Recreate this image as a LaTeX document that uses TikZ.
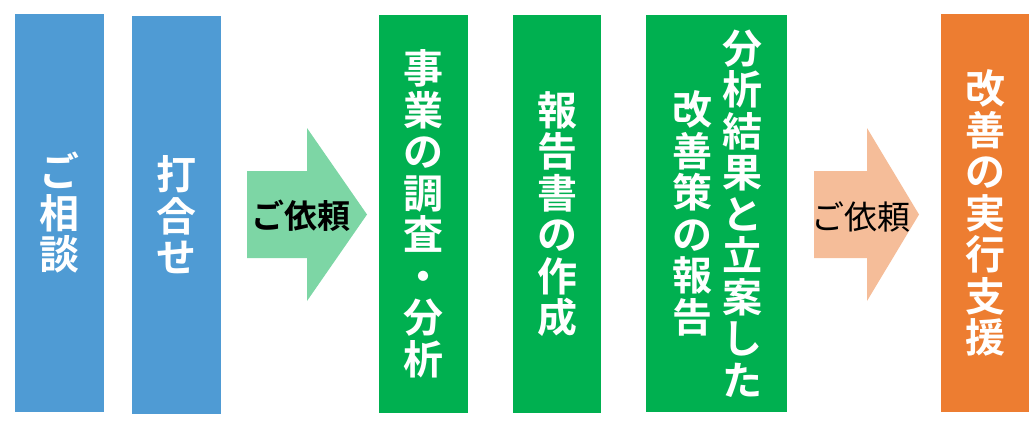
\documentclass[tikz,border=0pt]{standalone}
\usepackage{fontspec}
\newfontfamily\jp{Noto Sans CJK JP}[BoldFont={Noto Sans CJK JP Bold}]
\definecolor{cblue}{HTML}{4F9BD4}
\definecolor{cgreen}{HTML}{00B050}
\definecolor{cgreenl}{HTML}{7DD6A5}
\definecolor{corange}{HTML}{ED7D31}
\definecolor{corangel}{HTML}{F5BD99}
\tikzset{
  box/.style={rectangle, inner sep=0pt, minimum height=398pt, text=white,
    font=\jp\bfseries\fontsize{40}{41.5}\selectfont, align=center},
  coltext/.style={inner sep=0pt, text=white,
    font=\jp\bfseries\fontsize{40}{41.5}\selectfont, align=center},
  arrowlabel/.style={inner sep=0pt, text=black, font=\jp\fontsize{33}{36}\selectfont},
}
\begin{document}
\begin{tikzpicture}[x=1pt,y=-1pt]
\useasboundingbox (0,0) rectangle (1029,426);
% blue boxes
\node[box, fill=cblue, minimum width=89pt] (b1) at (59.5,213) {ご\\相\\談};
\node[box, fill=cblue, minimum width=89pt] (b2) at (176.5,215) {打\\合\\せ};
% green arrow
\fill[cgreenl] (247,171) -- (307,171) -- (307,128) -- (367,214.5) -- (307,301) -- (307,258) -- (247,258) -- cycle;
\node[arrowlabel, font=\jp\bfseries\fontsize{33}{36}\selectfont] (l1) at (300.5,216) {ご依頼};
% green boxes
\node[box, fill=cgreen, minimum width=89pt] (g1) at (423.5,214) {事\\業\\の\\調\\査\\・\\分\\析};
\node[box, fill=cgreen, minimum width=88pt] (g2) at (557,214) {報\\告\\書\\の\\作\\成};
\node[box, fill=cgreen, minimum width=141pt, minimum height=397pt] (g3) at (716.5,213.5) {};
\node[coltext] (g3a) at ([xshift=26pt]g3.center) {分\\析\\結\\果\\と\\立\\案\\し\\た};
\node[coltext] (g3b) at ([xshift=-24pt]g3.center) {改\\善\\策\\の\\報\\告};
% orange arrow
\fill[corangel] (814,171) -- (867,171) -- (867,128) -- (919,214.5) -- (867,301) -- (867,258) -- (814,258) -- cycle;
\node[arrowlabel] (l2) at (861,217) {ご依頼};
% orange box
\node[box, fill=corange, minimum width=88pt] (o1) at (985,213) {改\\善\\の\\実\\行\\支\\援};
\end{tikzpicture}
\end{document}
